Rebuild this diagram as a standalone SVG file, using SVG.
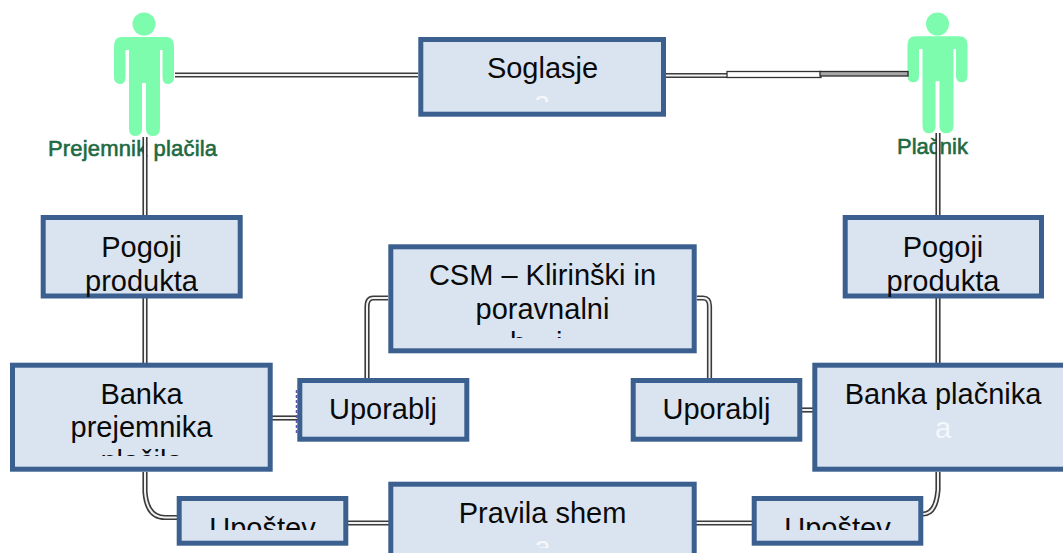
<svg xmlns="http://www.w3.org/2000/svg" width="1063" height="553" viewBox="0 0 1063 553">
<style>
.box{fill:#dae4f1;stroke:#3b6090;stroke-width:5}
.t{font-family:"Liberation Sans",Arial,sans-serif;font-size:29px;fill:#0a0a0a;text-anchor:middle}
.w{fill:#f4f7fb}
.lab{font-family:"Liberation Sans",Arial,sans-serif;font-size:22px;fill:#1f6a42;stroke:#1f6a42;stroke-width:.6}
.o{fill:none;stroke:#3c3c3c;stroke-width:5.2}
.i{fill:none;stroke:#f2f2f2;stroke-width:2}
.fig{fill:#7dfcae}
</style>
<defs>
<path id="person" d="M122 37H166Q174 37 174 46V77Q174 84 168 84Q163 84 162.500 78V50H160V128Q160 136 153 136Q147 136 146 130V83H142V130Q141 136 135 136Q129 136 129 128V50H125.500V78Q125 84 120 84Q114 84 114 77V46Q114 37 122 37Z"/>
<path id="conn-left" d="M175 75H418"/>
<path id="conn-a" d="M145 137V215"/>
<path id="conn-b" d="M145 298V363"/>
<path id="conn-c" d="M145 472V492Q147 517.500 165 517.500H178"/>
<path id="conn-d" d="M272 418H298"/>
<path id="conn-e" d="M388 298H373Q367 298 367 307V378"/>
<path id="conn-f" d="M697 298H703Q709.500 298 709.500 306V378"/>
<path id="conn-g" d="M802 410H813"/>
<path id="conn-h" d="M348 523H389"/>
<path id="conn-i" d="M696 523H752"/>
<path id="conn-j" d="M938 133V215"/>
<path id="conn-k" d="M938 298V363"/>
<path id="conn-l" d="M938 472V490Q936 514 923 514"/>
<path id="conn-m" d="M666 75.500H727"/>
<clipPath id="c-sog"><rect x="430" y="50" width="220" height="52"/></clipPath>
<clipPath id="c-csm"><rect x="400" y="250" width="285" height="88"/></clipPath>
<clipPath id="c-pre"><rect x="20" y="370" width="240" height="86"/></clipPath>
<clipPath id="c-up"><rect x="190" y="505" width="720" height="25"/></clipPath>
<clipPath id="c-pra"><rect x="400" y="490" width="285" height="58"/></clipPath>
</defs>

<g id="actor-prejemnik">
<use href="#person" class="fig"/>
<circle class="fig" cx="144" cy="24" r="11.500"/>
<text class="lab" x="48" y="155.500" textLength="169" lengthAdjust="spacing">Prejemnik plačila</text>
</g>
<g id="actor-placnik">
<use href="#person" class="fig" transform="translate(793.500 0) scale(1 .98)"/>
<circle class="fig" cx="937.500" cy="24" r="11.500"/>
<text class="lab" x="897" y="153.500">Plačnik</text>
</g>

<g id="connectors">
<g class="o">
<use href="#conn-left"/><use href="#conn-a"/><use href="#conn-b"/><use href="#conn-c"/><use href="#conn-d"/><use href="#conn-e"/><use href="#conn-f"/><use href="#conn-g"/><use href="#conn-h"/><use href="#conn-i"/><use href="#conn-j"/><use href="#conn-k"/><use href="#conn-l"/><use href="#conn-m"/>
</g>
<g class="i">
<use href="#conn-left"/><use href="#conn-a"/><use href="#conn-b"/><use href="#conn-c"/><use href="#conn-d"/><use href="#conn-e"/><use href="#conn-f"/><use href="#conn-g"/><use href="#conn-h"/><use href="#conn-i"/><use href="#conn-j"/><use href="#conn-k"/><use href="#conn-l"/><use href="#conn-m"/>
</g>
<rect x="727" y="71.500" width="94" height="6" fill="#fff" stroke="#333" stroke-width="1.300"/>
<rect x="820" y="71.500" width="88" height="4.500" fill="#a8a8a8" stroke="#2c2c2c" stroke-width="1.300"/>
<path d="M296.500 390V433" fill="none" stroke="#5a55a8" stroke-width="1.500" stroke-dasharray="3 2"/>
</g>

<g id="soglasje">
<rect class="box" x="420.800" y="39.500" width="242.700" height="74.700"/>
<text class="t" x="542.500" y="78">Soglasje</text>
<text class="t w" x="542" y="112" clip-path="url(#c-sog)">a</text>
</g>
<g id="pogoji-levo">
<rect class="box" x="43.200" y="217.500" width="197" height="78.500"/>
<text class="t" x="141.500" y="257">Pogoji</text>
<text class="t" x="141.500" y="291">produkta</text>
</g>
<g id="pogoji-desno">
<rect class="box" x="845.200" y="217.500" width="196.300" height="78.500"/>
<text class="t" x="943" y="257">Pogoji</text>
<text class="t" x="943" y="291">produkta</text>
</g>
<g id="csm">
<rect class="box" x="390.800" y="246.800" width="303.400" height="104"/>
<text class="t" x="542.500" y="285">CSM – Klirinški in</text>
<text class="t" x="542.500" y="319">poravnalni</text>
<text class="t" x="510 556" y="353" style="text-anchor:start" clip-path="url(#c-csm)">bi</text>
</g>
<g id="banka-prejemnika">
<rect class="box" x="12.500" y="365.200" width="257.700" height="104"/>
<text class="t" x="141.500" y="404">Banka</text>
<text class="t" x="141.500" y="437">prejemnika</text>
<text class="t" x="141.500" y="471" clip-path="url(#c-pre)">plačila</text>
</g>
<g id="uporablj-levo">
<rect class="box" x="299.800" y="380.500" width="167" height="58.700"/>
<text class="t" x="383" y="419">Uporablj</text>
</g>
<g id="uporablj-desno">
<rect class="box" x="633.200" y="380.500" width="166.600" height="58.700"/>
<text class="t" x="716.500" y="419">Uporablj</text>
</g>
<g id="banka-placnika">
<rect class="box" x="814.800" y="365.200" width="260" height="104"/>
<text class="t" x="943" y="404">Banka plačnika</text>
<text class="t w" x="943" y="438">a</text>
</g>
<g id="upostev-levo">
<rect class="box" x="179.200" y="498.500" width="166.600" height="44.700"/>
<text class="t" x="262.500" y="537.500" clip-path="url(#c-up)">Upoštev</text>
</g>
<g id="pravila">
<rect class="box" x="390.800" y="484.200" width="303.400" height="90"/>
<text class="t" x="542.500" y="523">Pravila shem</text>
<text class="t w" x="542.500" y="557" clip-path="url(#c-pra)">a</text>
</g>
<g id="upostev-desno">
<rect class="box" x="754.200" y="498.500" width="166.600" height="44.700"/>
<text class="t" x="837.500" y="537.500" clip-path="url(#c-up)">Upoštev</text>
</g>
</svg>
